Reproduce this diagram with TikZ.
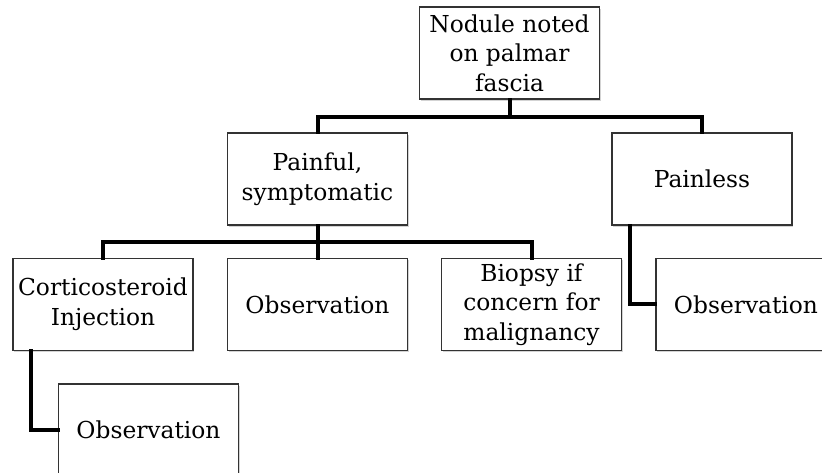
\documentclass[tikz,border=0pt]{standalone}
\usepackage{fontspec}
\setmainfont{DejaVu Serif}
\usetikzlibrary{shadows}

\tikzset{
  box/.style={draw=black!80, line width=1.3pt, fill=white, align=center,
    minimum width=135pt, minimum height=69pt, inner sep=1pt,
    font=\fontsize{17.5}{22.2}\selectfont,
    drop shadow={shadow xshift=1pt, shadow yshift=-1.2pt, opacity=0.35}},
  link/.style={line width=3pt, line cap=rect}
}

\begin{document}
\begin{tikzpicture}[x=0.75pt, y=0.75pt]
            \useasboundingbox (0,0) rectangle (822,473);
            \clip (0,0) rectangle (822,473);
            % boxes
            \node (nodule) at (509.5,420) [box] {Nodule noted\\on palmar\\fascia};
            \node (painful) at (317.5,294) [box] {Painful,\\symptomatic};
            \node (painless) at (702,294) [box] {Painless};
            \node (steroid) at (103,168.5) [box] {Corticosteroid\\Injection};
            \node (obsmid) at (317.5,168.5) [box] {Observation};
            \node (biopsy) at (531.5,168.5) [box] {Biopsy if\\concern for\\malignancy};
            \node (obsright) at (746,168.5) [box] {Observation};
            \node (obslow) at (148.5,43) [box] {Observation};
            % connectors
            \coordinate (hubA) at (0,356);
            \coordinate (hubB) at (0,231);
            \draw[link] (nodule.south) -- (nodule.south |- hubA);
            \draw[link] (painful.north) |- (painless.north |- hubA) -- (painless.north);
            \draw[link] (painful.south) -- (painful.south |- hubB);
            \draw[link] (steroid.north) |- (biopsy.north |- hubB) -- (biopsy.north);
            \draw[link] (obsmid.north) -- (obsmid.north |- hubB);
            \draw[link] ([xshift=14pt]painless.south west) |- (obsright.west);
            \draw[link] ([xshift=14pt]steroid.south west) |- (obslow.west);
        \end{tikzpicture}
\end{document}
